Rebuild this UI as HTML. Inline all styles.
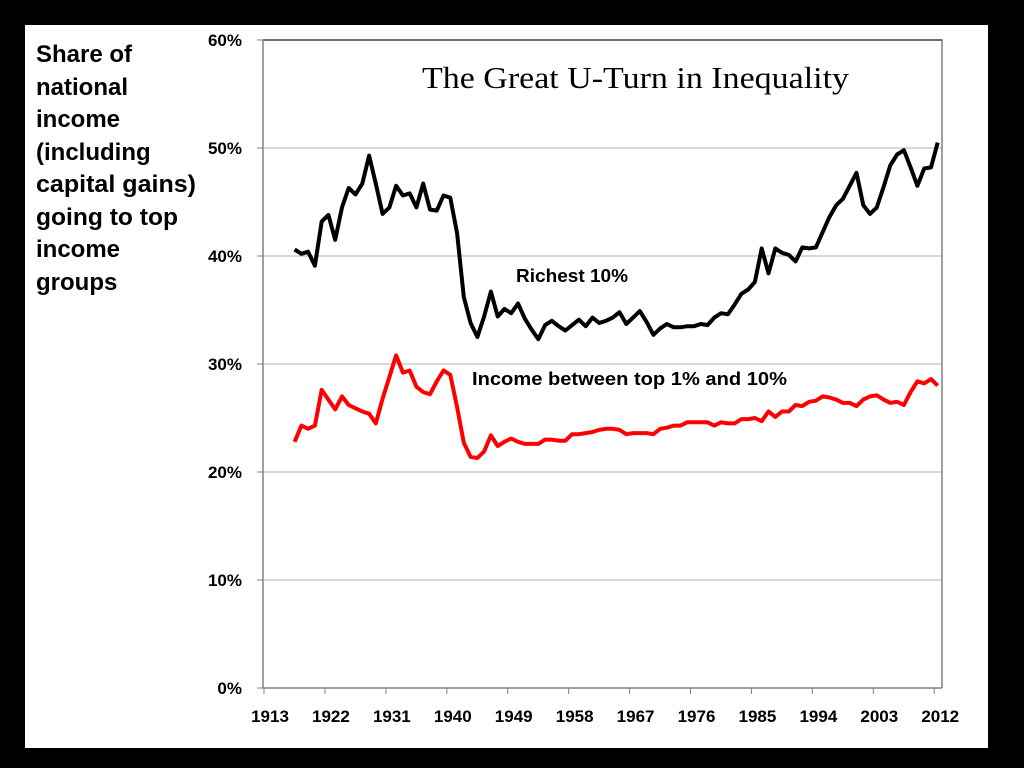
<!DOCTYPE html>
<html><head><meta charset="utf-8"><style>
body{margin:0;background:#000;}
#wrap{position:relative;width:1024px;height:768px;background:#000;overflow:hidden;}
#panel{position:absolute;left:25px;top:25px;width:963px;height:723px;background:#fff;}
svg{position:absolute;left:0;top:0;}
</style></head><body>
<div id="wrap">
<div id="panel"></div>
<svg id="chart" width="1024" height="768">
<g font-family="Liberation Sans, sans-serif" font-weight="bold" font-size="24" fill="#000">
<text x="36" y="62">Share of</text>
<text x="36" y="95">national</text>
<text x="36" y="127">income</text>
<text x="36" y="160">(including</text>
<text x="36" y="192" textLength="160" lengthAdjust="spacingAndGlyphs">capital gains)</text>
<text x="36" y="225" textLength="142" lengthAdjust="spacingAndGlyphs">going to top</text>
<text x="36" y="257">income</text>
<text x="36" y="290">groups</text>
</g>
<text x="422" y="88" textLength="427" lengthAdjust="spacingAndGlyphs" font-family="Liberation Serif, serif" font-size="31">The Great U-Turn in Inequality</text>
<text x="516" y="282" textLength="112" lengthAdjust="spacingAndGlyphs" font-family="Liberation Sans, sans-serif" font-weight="bold" font-size="18">Richest 10%</text>
<text x="472" y="385" textLength="315" lengthAdjust="spacingAndGlyphs" font-family="Liberation Sans, sans-serif" font-weight="bold" font-size="18">Income between top 1% and 10%</text>
</svg>
</div>
<script>
const years = [];
for (let y = 1917; y <= 2012; y++) years.push(y);
const richest10 = [40.6,40.2,40.4,39.1,43.2,43.8,41.5,44.5,46.3,45.7,46.7,49.3,46.7,43.9,44.5,46.5,45.6,45.8,44.5,46.7,44.3,44.2,45.6,45.4,42.1,36.2,33.8,32.5,34.4,36.7,34.4,35.1,34.7,35.6,34.2,33.2,32.3,33.6,34.0,33.5,33.1,33.6,34.1,33.5,34.3,33.8,
34.0,34.3,34.8,33.7,34.3,34.9,33.9,32.7,33.3,33.7,33.4,33.4,33.5,33.5,33.7,33.6,34.3,34.7,34.6,35.5,36.5,36.9,37.6,40.7,38.4,40.7,40.3,40.1,39.5,40.8,40.7,40.8,42.2,43.6,44.7,45.3,46.5,47.7,44.7,43.9,44.5,46.4,48.4,49.4,49.8,48.2,46.5,48.1,48.2,50.5];
const top1to10 = [22.8,24.3,24.0,24.3,27.6,26.7,25.8,27.0,26.2,25.9,25.6,25.4,24.5,26.8,28.8,30.8,29.2,29.4,27.9,27.4,27.2,28.4,29.4,29.0,26.0,22.7,21.4,21.3,21.9,23.4,22.4,22.8,23.1,22.8,22.6,22.6,22.6,23.0,23.0,22.9,22.9,23.5,23.5,23.6,23.7,23.9,
24.0,24.0,23.9,23.5,23.6,23.6,23.6,23.5,24.0,24.1,24.3,24.3,24.6,24.6,24.6,24.6,24.3,24.6,24.5,24.5,24.9,24.9,25.0,24.7,25.6,25.1,25.6,25.6,26.2,26.1,26.5,26.6,27.0,26.9,26.7,26.4,26.4,26.1,26.7,27.0,27.1,26.7,26.4,26.5,26.2,27.4,28.4,28.2,28.6,28.0];
const yTicks = [0,10,20,30,40,50,60];
const xTickYears = [1913,1922,1931,1940,1949,1958,1967,1976,1985,1994,2003,2012];

const PL=263,PR=942,PT=40,PB=688;
const NS='http://www.w3.org/2000/svg';
const chartSvg=document.getElementById('chart');
function yS(v){return PB-(v/60)*(PB-PT);}
function xT(yr){return 264+(yr-1913)*6.77;}
function xS(yr){return xT(yr)+3.5;}
function mk(tag,attrs,parent){const e=document.createElementNS(NS,tag);for(const k in attrs)e.setAttribute(k,attrs[k]);(parent||chartSvg).appendChild(e);return e;}

const grid=mk('g',{});


yTicks.forEach(v=>{
  if(v>0&&v<60){const l=mk('line',{x1:PL,x2:PR,y1:yS(v),y2:yS(v),stroke:'#b0b0b0','stroke-width':1},grid);
  
  }
});
const frame=mk('path',{d:`M${PL},${PT}H${PR}V${PB}`,fill:'none',stroke:'#808080','stroke-width':1.5});


const topLine=mk('line',{x1:PL,x2:PR,y1:PT,y2:PT,stroke:'#555','stroke-width':1.5});



const yax=mk('g',{});


mk('line',{x1:PL,x2:PL,y1:PT,y2:PB,stroke:'#808080','stroke-width':1.5},yax);
yTicks.forEach(v=>{
  mk('line',{x1:PL-6,x2:PL,y1:yS(v),y2:yS(v),stroke:'#808080','stroke-width':1},yax);
  const t=mk('text',{x:242,y:yS(v)+6,'text-anchor':'end','font-family':'Liberation Sans, sans-serif','font-weight':'bold','font-size':17},yax);
  
  
  t.textContent=v+'%';
});
const xax=mk('g',{});


mk('line',{x1:PL,x2:PR,y1:PB,y2:PB,stroke:'#808080','stroke-width':1.5},xax);
xTickYears.forEach(yr=>{
  mk('line',{x1:xT(yr),x2:xT(yr),y1:PB,y2:PB+6,stroke:'#808080','stroke-width':1},xax);
  const t=mk('text',{x:xT(yr)+6,y:722,'text-anchor':'middle','font-family':'Liberation Sans, sans-serif','font-weight':'bold','font-size':17},xax);
  
  
  t.textContent=yr;
});
function drawLine(vals,color,name){
  const d=vals.map((v,i)=>(i?'L':'M')+xS(years[i]).toFixed(1)+','+yS(v).toFixed(1)).join('');
  const p=mk('path',{d:d,fill:'none',stroke:color,'stroke-width':4,'stroke-linejoin':'round'});
  
  
}
drawLine(richest10,'#000','series-richest-10');
drawLine(top1to10,'#ff0000','series-top1-to-10');
</script>
</body></html>
